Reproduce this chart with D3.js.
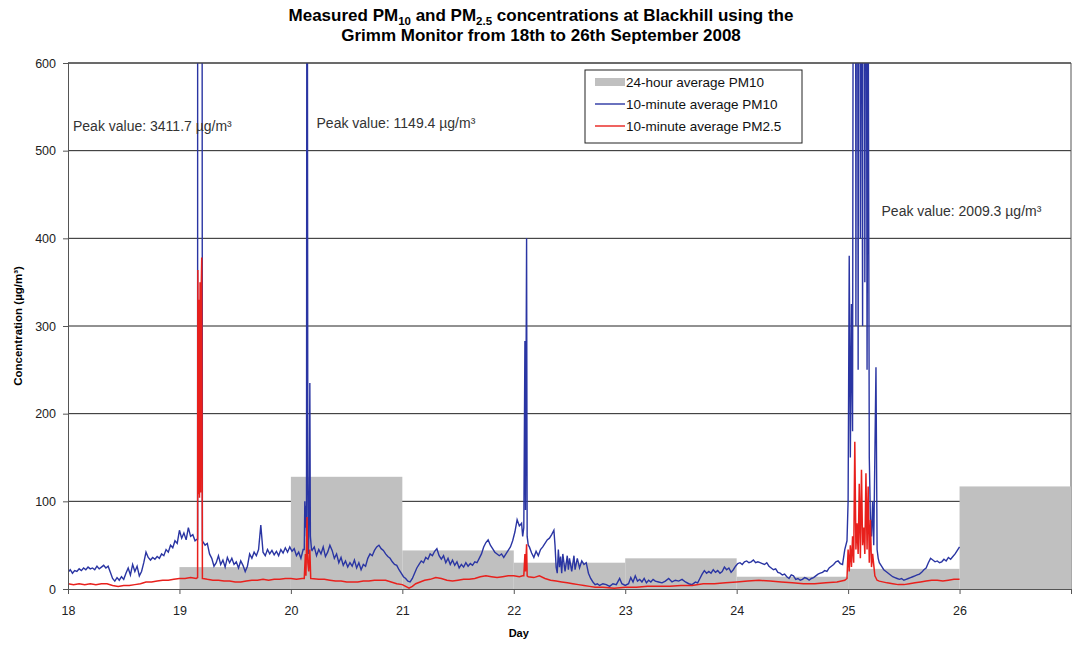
<!DOCTYPE html>
<html>
<head>
<meta charset="utf-8">
<script src="https://cdn.jsdelivr.net/npm/d3@7"></script>
<style>
  body { margin: 0; background: #fff; }
  text { font-family: "Liberation Sans", Arial, sans-serif; }
</style>
</head>
<body>
<svg width="1076" height="646"></svg>
<script>
// ---- data ----
const days = [18, 19, 20, 21, 22, 23, 24, 25, 26, 27];
const yTicks = [0, 100, 200, 300, 400, 500, 600];

// 24-hour average PM10, one bar per day [start day, value]
const dailyPM10 = [[19, 25], [20, 128], [21, 44], [22, 30], [23, 35], [24, 14], [25, 23], [26, 117]];

// 10-minute PM10, background readings [day, value]
const pm10Base = [
  [18.00,19],[18.02,22],[18.04,18],[18.06,21],[18.08,20],[18.10,23],[18.12,21],[18.14,24],[18.16,22],[18.18,25],
  [18.20,23],[18.22,24],[18.24,22],[18.26,26],[18.28,23],[18.30,25],[18.32,27],[18.34,24],[18.36,26],[18.38,19],
  [18.40,12],[18.42,9],[18.44,13],[18.46,10],[18.48,14],[18.50,11],[18.52,18],[18.54,24],[18.56,16],[18.58,28],
  [18.60,20],[18.62,26],[18.64,15],[18.66,20],[18.68,30],[18.70,42],[18.72,36],[18.74,33],[18.76,36],[18.78,34],
  [18.80,37],[18.82,35],[18.84,40],[18.86,38],[18.88,45],[18.90,42],[18.92,50],[18.94,47],[18.96,55],[18.98,52],
  [19.00,67],[19.02,58],[19.04,64],[19.06,56],[19.08,70],[19.10,60],[19.12,62],[19.14,55],[19.16,57],
  [19.21,54],[19.23,50],[19.25,52],[19.27,40],[19.29,35],[19.31,26],[19.33,30],[19.35,38],[19.37,28],[19.39,33],
  [19.41,25],[19.43,36],[19.45,30],[19.47,35],[19.49,28],[19.51,31],[19.53,24],[19.55,32],[19.57,27],[19.59,20],
  [19.61,26],[19.63,40],[19.65,35],[19.67,42],[19.69,38],[19.71,45],[19.73,73],[19.75,42],[19.77,38],[19.79,45],
  [19.81,40],[19.83,44],[19.85,39],[19.87,43],[19.89,38],[19.91,45],[19.93,41],[19.95,47],[19.97,42],[19.99,48],
  [20.01,43],[20.03,46],[20.05,38],[20.07,42],[20.09,35],[20.11,45],
  [20.19,44],[20.21,48],[20.23,38],[20.25,45],[20.27,40],[20.29,48],[20.31,37],[20.33,42],[20.35,50],[20.37,44],
  [20.39,35],[20.41,40],[20.43,30],[20.45,36],[20.47,27],[20.49,32],[20.51,25],[20.53,30],[20.55,26],[20.57,33],
  [20.59,24],[20.61,30],[20.63,22],[20.65,28],[20.67,26],[20.69,35],[20.71,40],[20.73,38],[20.75,44],[20.77,48],
  [20.79,50],[20.81,46],[20.83,44],[20.85,40],[20.87,37],[20.89,35],[20.91,31],[20.93,28],[20.95,27],[20.97,22],
  [20.99,18],[21.01,14],[21.03,12],[21.05,9],[21.07,8],[21.09,12],[21.11,18],[21.13,24],[21.15,28],[21.17,32],
  [21.19,30],[21.21,36],[21.23,34],[21.25,40],[21.27,38],[21.29,43],[21.31,46],[21.33,38],[21.35,34],[21.37,38],
  [21.39,30],[21.41,35],[21.43,28],[21.45,33],[21.47,27],[21.49,31],[21.51,24],[21.53,28],[21.55,25],[21.57,30],
  [21.59,26],[21.61,29],[21.63,27],[21.65,31],[21.67,30],[21.69,35],[21.71,40],[21.73,48],[21.75,53],[21.77,56],
  [21.79,50],[21.81,46],[21.83,42],[21.85,40],[21.87,38],[21.89,40],[21.91,36],[21.93,40],[21.95,44],[21.97,48],
  [21.99,55],[22.01,65],[22.03,79],[22.05,72],[22.07,75],[22.08,60],
  [22.14,48],[22.16,41],[22.18,36],[22.20,43],[22.22,38],[22.24,45],[22.26,48],[22.28,52],[22.30,56],[22.32,58],
  [22.34,62],[22.36,67],[22.37,50],[22.38,25],[22.39,18],[22.40,45],[22.41,25],[22.42,37],[22.43,18],[22.44,40],
  [22.46,20],[22.48,38],[22.49,22],[22.50,35],[22.52,20],[22.54,38],[22.55,22],[22.57,35],[22.59,24],[22.61,32],
  [22.63,28],[22.65,30],[22.67,18],[22.69,12],[22.71,8],[22.73,5],[22.75,6],[22.77,4],[22.80,6],[22.83,5],
  [22.86,3],[22.89,6],[22.92,5],[22.95,12],[22.97,6],[23.00,4],[23.03,6],[23.05,13],[23.07,8],[23.09,15],
  [23.11,9],[23.13,11],[23.15,8],[23.17,12],[23.19,7],[23.21,10],[23.23,8],[23.25,11],[23.27,9],[23.30,8],
  [23.33,7],[23.36,9],[23.39,12],[23.42,8],[23.45,10],[23.48,9],[23.51,11],[23.54,8],[23.57,6],[23.60,5],
  [23.63,8],[23.65,7],[23.67,12],[23.69,17],[23.71,21],[23.73,18],[23.75,20],[23.77,18],[23.79,22],[23.81,19],
  [23.83,21],[23.85,18],[23.87,20],[23.89,25],[23.91,22],[23.93,24],[23.95,19],[23.97,22],[23.99,26],[24.01,29],
  [24.03,30],[24.05,28],[24.07,31],[24.09,32],[24.11,30],[24.13,31],[24.15,33],[24.17,30],[24.19,31],[24.21,30],
  [24.23,29],[24.25,28],[24.27,30],[24.29,26],[24.31,24],[24.33,22],[24.35,23],[24.37,19],[24.39,18],[24.41,16],
  [24.43,17],[24.45,14],[24.47,12],[24.49,16],[24.51,15],[24.53,11],[24.55,12],[24.57,10],[24.59,11],[24.61,13],
  [24.63,12],[24.65,10],[24.67,12],[24.69,13],[24.71,15],[24.73,17],[24.75,18],[24.77,19],[24.79,21],[24.81,20],
  [24.83,24],[24.85,26],[24.87,28],[24.89,31],[24.91,32],[24.93,29],[24.95,28],[24.97,45],[24.99,55],
  [25.28,30],[25.30,26],[25.32,22],[25.34,20],[25.36,18],[25.38,16],[25.40,14],[25.42,13],[25.44,12],[25.46,11],
  [25.48,12],[25.50,10],[25.52,11],[25.54,12],[25.56,13],[25.58,14],[25.60,15],[25.62,16],[25.64,17],[25.66,19],
  [25.68,22],[25.70,24],[25.72,30],[25.74,35],[25.76,33],[25.78,31],[25.80,32],[25.82,30],[25.84,31],[25.86,34],
  [25.88,32],[25.90,36],[25.92,34],[25.94,37],[25.96,40],[25.98,44],[26.00,48]
];

// 10-minute PM10 during the dust events
const pm10Spikes = [
  [19.163,57],[19.165,3411.7],[19.175,2600],[19.185,1900],[19.195,1200],[19.203,800],[19.206,55],
  [20.12,45],[20.125,100],[20.13,70],[20.135,95],[20.14,60],[20.145,1149.4],[20.152,120],[20.158,40],
  [20.165,100],[20.17,235],[20.175,60],[20.185,45],
  [22.09,70],[22.10,283],[22.105,90],[22.115,400],[22.12,60],[22.13,50],
  [25.00,100],[25.01,380],[25.02,150],[25.03,325],[25.04,180],[25.05,1200],[25.06,2009.3],[25.07,300],
  [25.08,1400],[25.09,250],[25.10,1600],[25.11,400],[25.12,900],[25.13,300],[25.14,1800],[25.15,350],
  [25.16,1100],[25.17,250],[25.18,700],[25.19,150],[25.20,80],[25.21,60],[25.22,100],[25.23,50],
  [25.25,253],[25.26,45],[25.27,35]
];

// 10-minute PM2.5, background readings
const pm25Base = [
  [18.00,6],[18.05,5],[18.10,6],[18.15,5],[18.20,6],[18.25,5],[18.30,6],[18.35,6],[18.40,4],[18.45,3],
  [18.50,4],[18.55,4],[18.60,5],[18.65,6],[18.70,8],[18.75,8],[18.80,9],[18.85,10],[18.90,10],[18.95,11],
  [19.00,12],[19.05,12],[19.10,13],[19.15,12],
  [19.21,12],[19.25,11],[19.30,10],[19.35,10],[19.40,9],[19.45,9],[19.50,8],[19.55,8],[19.60,9],[19.65,10],
  [19.70,10],[19.75,11],[19.80,10],[19.85,11],[19.90,11],[19.95,12],[20.00,12],[20.05,11],[20.10,12],
  [20.18,12],[20.25,11],[20.30,11],[20.35,10],[20.40,9],[20.45,9],[20.50,8],[20.55,8],[20.60,8],[20.65,9],
  [20.70,9],[20.75,10],[20.80,10],[20.85,10],[20.90,8],[20.95,6],[21.00,5],[21.03,3],[21.06,1],[21.09,3],
  [21.12,6],[21.16,8],[21.20,10],[21.25,11],[21.30,13],[21.35,12],[21.40,10],[21.45,9],[21.50,10],[21.55,11],
  [21.60,11],[21.65,12],[21.70,14],[21.75,15],[21.80,14],[21.85,13],[21.90,14],[21.95,15],[22.00,15],[22.05,14],
  [22.08,15],
  [22.13,14],[22.18,13],[22.23,15],[22.28,12],[22.33,10],[22.38,9],[22.43,8],[22.48,7],[22.53,6],[22.58,5],
  [22.63,4],[22.68,3],[22.73,2],[22.80,2],[22.90,1],[23.00,2],[23.10,2],[23.20,3],[23.30,3],[23.40,3],
  [23.50,4],[23.60,4],[23.70,6],[23.80,6],[23.90,7],[24.00,8],[24.10,9],[24.20,10],[24.30,9],[24.40,8],
  [24.50,7],[24.60,6],[24.70,6],[24.80,7],[24.90,8],[24.97,10],
  [25.28,9],[25.35,7],[25.40,6],[25.45,5],[25.50,5],[25.55,6],[25.60,7],[25.65,8],[25.70,9],[25.75,10],
  [25.80,10],[25.85,9],[25.90,10],[25.95,11],[26.00,11]
];

// 10-minute PM2.5 during the dust events
const pm25Spikes = [
  [19.163,13],[19.165,364],[19.17,108],[19.175,330],[19.18,104],[19.185,350],[19.19,110],[19.195,340],
  [19.20,378],[19.206,12],
  [20.12,12],[20.13,40],[20.135,15],[20.14,50],[20.145,82],[20.152,30],[20.16,20],[20.17,45],[20.178,12],
  [22.09,15],[22.10,40],[22.105,20],[22.115,51],[22.12,15],
  [24.99,12],[25.00,45],[25.01,20],[25.02,50],[25.03,25],[25.04,60],[25.05,30],[25.06,168],[25.07,45],
  [25.08,75],[25.09,40],[25.10,120],[25.11,35],[25.12,136],[25.13,50],[25.14,70],[25.15,40],[25.16,132],
  [25.17,45],[25.18,117],[25.19,30],[25.20,79],[25.21,25],[25.22,40],[25.24,15],[25.26,10]
];

const peakLabels = [
  { text: 'Peak value: 3411.7 µg/m³', day: 18.045, value: 523 },
  { text: 'Peak value: 1149.4 µg/m³', day: 20.23, value: 526 },
  { text: 'Peak value: 2009.3 µg/m³', day: 25.3, value: 425 }
];

// ---- layout ----
const svg = d3.select('svg');
const margin = { left: 68, right: 5, top: 63, bottom: 57 };
const width = 1076, height = 646;

const x = d3.scaleLinear().domain([18, 27]).range([margin.left, width - margin.right]);
const y = d3.scaleLinear().domain([0, 600]).range([height - margin.bottom, margin.top]);

const byDay = (a, b) => a[0] - b[0];
const pm10 = pm10Base.concat(pm10Spikes).sort(byDay);
const pm25 = pm25Base.concat(pm25Spikes).sort(byDay);

svg.append('defs').append('clipPath').attr('id', 'plot')
  .append('rect')
  .attr('x', x(18)).attr('y', y(600))
  .attr('width', x(27) - x(18)).attr('height', y(0) - y(600));

// gridlines
svg.append('g')
  .selectAll('line')
  .data(yTicks.filter(d => d > 0))
  .join('line')
  .attr('x1', x(18)).attr('x2', x(27))
  .attr('y1', d => y(d)).attr('y2', d => y(d))
  .attr('stroke', '#222').attr('stroke-width', 1);

// right border
svg.append('line')
  .attr('x1', x(27)).attr('x2', x(27))
  .attr('y1', y(0)).attr('y2', y(600))
  .attr('stroke', '#555');

// 24-hour bars
svg.append('g')
  .selectAll('rect')
  .data(dailyPM10)
  .join('rect')
  .attr('x', d => x(d[0]))
  .attr('width', d => x(d[0] + 1) - x(d[0]))
  .attr('y', d => y(d[1]))
  .attr('height', d => y(0) - y(d[1]))
  .attr('fill', '#c0c0c0');

const line = d3.line().x(d => x(d[0])).y(d => y(d[1]));

const lines = svg.append('g').attr('clip-path', 'url(#plot)');
lines.append('path')
  .datum(pm10)
  .attr('d', line)
  .attr('fill', 'none')
  .attr('stroke', '#2a35a3')
  .attr('stroke-width', 1.4);
lines.append('path')
  .datum(pm25)
  .attr('d', line)
  .attr('fill', 'none')
  .attr('stroke', '#e8201c')
  .attr('stroke-width', 1.5);

// axes
const yAxis = svg.append('g')
  .attr('transform', `translate(${x(18)},0)`)
  .call(d3.axisLeft(y).tickValues(yTicks).tickSize(5).tickPadding(7));
const xAxis = svg.append('g')
  .attr('transform', `translate(0,${y(0)})`)
  .call(d3.axisBottom(x).tickValues(days).tickSize(5).tickPadding(12)
    .tickFormat(d => d === 27 ? '' : d));
[yAxis, xAxis].forEach(a => {
  a.select('.domain').attr('stroke', '#555');
  a.selectAll('.tick line').attr('stroke', '#555');
  a.selectAll('.tick text').attr('fill', '#222').attr('font-size', 12.5)
    .attr('font-family', '"Liberation Sans", Arial, sans-serif');
});
// top border
svg.append('line')
  .attr('x1', x(18)).attr('x2', x(27))
  .attr('y1', y(600)).attr('y2', y(600))
  .attr('stroke', '#444');

// axis titles
svg.append('text')
  .attr('transform', `translate(22,${(y(0) + y(600)) / 2}) rotate(-90)`)
  .attr('text-anchor', 'middle')
  .attr('font-size', 11.5).attr('font-weight', 'bold')
  .text('Concentration (µg/m³)');
svg.append('text')
  .attr('x', (x(18) + x(26)) / 2 + 5).attr('y', 637)
  .attr('text-anchor', 'middle')
  .attr('font-size', 11).attr('font-weight', 'bold')
  .text('Day');

// title
const title = svg.append('text')
  .attr('x', 541).attr('y', 21)
  .attr('text-anchor', 'middle')
  .attr('font-size', 17).attr('font-weight', 'bold');
title.append('tspan').text('Measured PM');
title.append('tspan').attr('font-size', 11.5).attr('dy', 4).text('10');
title.append('tspan').attr('dy', -4).text(' and PM');
title.append('tspan').attr('font-size', 11.5).attr('dy', 4).text('2.5');
title.append('tspan').attr('dy', -4).text(' concentrations at Blackhill using the');
svg.append('text')
  .attr('x', 541).attr('y', 41)
  .attr('text-anchor', 'middle')
  .attr('font-size', 17).attr('font-weight', 'bold')
  .text('Grimm Monitor from 18th to 26th September 2008');

// peak annotations
svg.append('g')
  .selectAll('text')
  .data(peakLabels)
  .join('text')
  .attr('x', d => x(d.day)).attr('y', d => y(d.value))
  .attr('font-family', '"Open Sans", sans-serif')
  .attr('font-size', 14)
  .attr('fill', '#333')
  .text(d => d.text);

// legend
const legend = svg.append('g').attr('transform', 'translate(585,70)');
legend.append('rect')
  .attr('width', 217).attr('height', 73)
  .attr('fill', '#fff').attr('stroke', '#222');
const legendItems = [
  { label: '24-hour average PM10', type: 'bar', color: '#c0c0c0' },
  { label: '10-minute average PM10', type: 'line', color: '#2a35a3' },
  { label: '10-minute average PM2.5', type: 'line', color: '#e8201c' }
];
const li = legend.selectAll('g.item')
  .data(legendItems)
  .join('g')
  .attr('transform', (d, i) => `translate(10,${12 + i * 22})`);
li.filter(d => d.type === 'bar').append('rect')
  .attr('x', 0).attr('y', -4).attr('width', 30).attr('height', 8)
  .attr('fill', d => d.color);
li.filter(d => d.type === 'line').append('line')
  .attr('x1', 0).attr('x2', 30).attr('y1', 0).attr('y2', 0)
  .attr('stroke', d => d.color).attr('stroke-width', 1.4);
li.append('text')
  .attr('x', 31).attr('y', 5)
  .attr('font-size', 13.5).attr('fill', '#111')
  .text(d => d.label);
</script>
</body>
</html>
